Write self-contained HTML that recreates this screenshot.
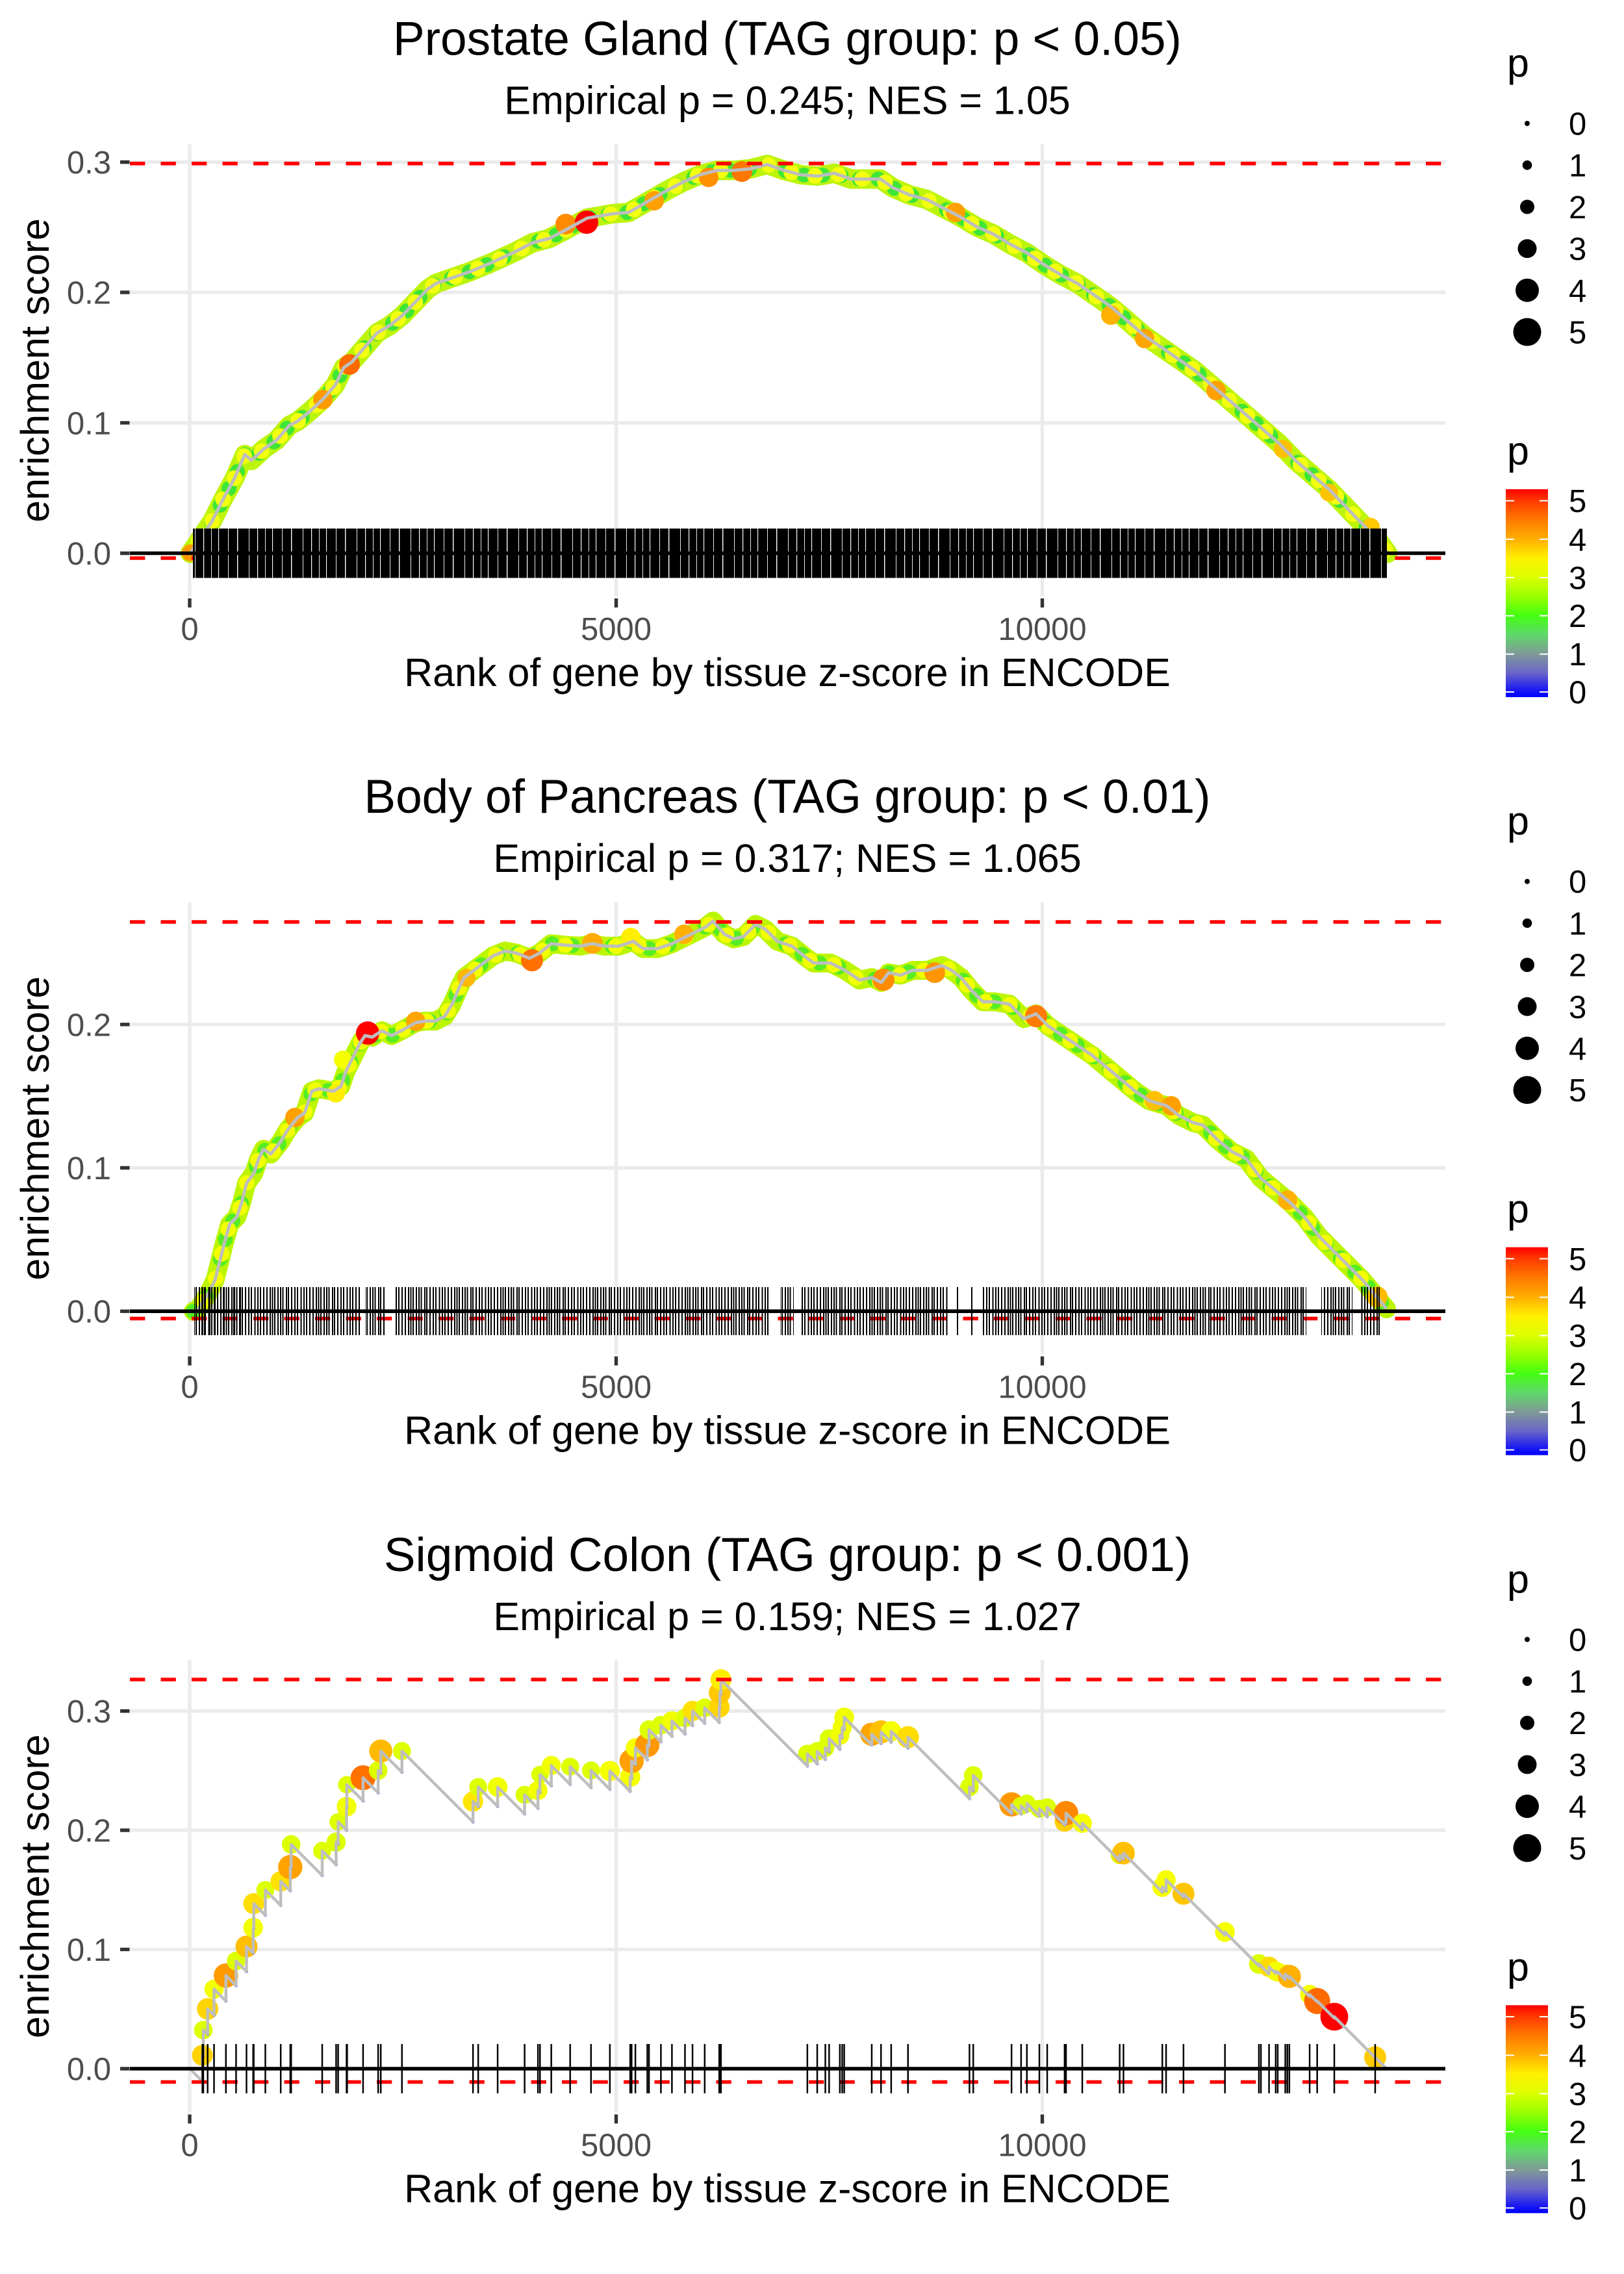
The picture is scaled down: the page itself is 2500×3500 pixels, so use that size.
<!DOCTYPE html>
<html><head><meta charset="utf-8"><style>html,body{margin:0;padding:0;background:#fff;width:2500px;height:3500px;overflow:hidden}svg{display:block}</style></head>
<body>
<svg xmlns="http://www.w3.org/2000/svg" width="2500" height="3500" viewBox="0 0 2500 3500" font-family="'Liberation Sans', Arial, sans-serif">
<defs>
<linearGradient id="cb" x1="0" y1="0" x2="0" y2="1">
<stop offset="0" stop-color="#FF0000"/><stop offset="0.055" stop-color="#FF3A00"/><stop offset="0.147" stop-color="#FF7A00"/><stop offset="0.239" stop-color="#FFAE00"/><stop offset="0.331" stop-color="#FFF000"/><stop offset="0.423" stop-color="#DDFF00"/><stop offset="0.515" stop-color="#99FF00"/><stop offset="0.607" stop-color="#44FF11"/><stop offset="0.699" stop-color="#5FD86A"/><stop offset="0.791" stop-color="#7F9A96"/><stop offset="0.883" stop-color="#6A66C8"/><stop offset="0.975" stop-color="#1010F8"/><stop offset="1" stop-color="#0000FF"/>
</linearGradient>
<pattern id="w1" patternUnits="userSpaceOnUse" x="0" y="0" width="83" height="4"><rect x="4" width="1.1" height="4" fill="#fff"/><rect x="19" width="0.9" height="4" fill="#fff"/><rect x="33" width="1.4" height="4" fill="#fff"/><rect x="51" width="0.9" height="4" fill="#fff"/><rect x="64" width="1.2" height="4" fill="#fff"/><rect x="76" width="0.9" height="4" fill="#fff"/></pattern>
<pattern id="b2" patternUnits="userSpaceOnUse" x="0" y="0" width="71" height="4"><rect x="1" width="2" height="4"/><rect x="5" width="2" height="4"/><rect x="8.5" width="2" height="4"/><rect x="14" width="2" height="4"/><rect x="17" width="2" height="4"/><rect x="22" width="2" height="4"/><rect x="27" width="2" height="4"/><rect x="31" width="2" height="4"/><rect x="36.5" width="2" height="4"/><rect x="41" width="2" height="4"/><rect x="45" width="2" height="4"/><rect x="50" width="2" height="4"/><rect x="55" width="2" height="4"/><rect x="60" width="2" height="4"/><rect x="63.5" width="2" height="4"/><rect x="67" width="2" height="4"/></pattern>
<pattern id="b2b" patternUnits="userSpaceOnUse" x="0" y="0" width="29" height="4"><rect x="3" width="2" height="4"/><rect x="11" width="2" height="4"/><rect x="20" width="2" height="4"/><rect x="24" width="2" height="4"/></pattern>
</defs>
<rect width="2500" height="3500" fill="#fff"/>

<!-- ================= PANEL 1 ================= -->
<g>
<path d="M292,222V918M948.5,222V918M1604.5,222V918M200,249.5H2225M200,450H2225M200,650.8H2225M200,851.5H2225" stroke="#EBEBEB" stroke-width="5.4" fill="none"/>
<path d="M292,921V935M948.5,921V935M1604.5,921V935M185,249.5H199.5M185,450H199.5M185,650.8H199.5M185,851.5H199.5" stroke="#333" stroke-width="5.4"/>
<g font-size="49" fill="#4D4D4D" text-anchor="middle"><text x="292" y="985">0</text><text x="948.5" y="985">5000</text><text x="1604.5" y="985">10000</text></g>
<g font-size="49" fill="#4D4D4D" text-anchor="end"><text x="171" y="267">0.3</text><text x="171" y="467.5">0.2</text><text x="171" y="668.3">0.1</text><text x="171" y="869">0.0</text></g>
<text x="1212" y="84.5" font-size="73" text-anchor="middle">Prostate Gland (TAG group: p &lt; 0.05)</text>
<text x="1212" y="175.5" font-size="61" text-anchor="middle">Empirical p = 0.245; NES = 1.05</text>
<text x="1212" y="1056" font-size="61" text-anchor="middle">Rank of gene by tissue z-score in ENCODE</text>
<text transform="translate(75,570) rotate(-90)" font-size="61" text-anchor="middle">enrichment score</text>
<text x="2320" y="118" font-size="61">p</text>
<g fill="#000"><circle cx="2351" cy="190" r="4"/><circle cx="2351" cy="254.2" r="7.3"/><circle cx="2351" cy="318.4" r="11"/><circle cx="2351" cy="382.6" r="14.5"/><circle cx="2351" cy="446.8" r="18"/><circle cx="2351" cy="511" r="21.5"/></g>
<g font-size="49"><text x="2415" y="207.5">0</text><text x="2415" y="271.7">1</text><text x="2415" y="335.9">2</text><text x="2415" y="400.1">3</text><text x="2415" y="464.3">4</text><text x="2415" y="528.5">5</text></g>
<text x="2320" y="715" font-size="61">p</text>
<rect x="2318" y="753" width="65" height="320" fill="url(#cb)"/>
<path d="M2318,770.7h13M2370,770.7h13M2318,830h13M2370,830h13M2318,889h13M2370,889h13M2318,947.7h13M2370,947.7h13M2318,1006.7h13M2370,1006.7h13M2318,1065h13M2370,1065h13" stroke="#fff" stroke-width="2"/>
<g font-size="49"><text x="2415" y="788.2">5</text><text x="2415" y="847.5">4</text><text x="2415" y="906.5">3</text><text x="2415" y="965.2">2</text><text x="2415" y="1024.2">1</text><text x="2415" y="1082.5">0</text></g>

<g fill="none" stroke-linejoin="round" stroke-linecap="round">
<path stroke="#BDF40C" stroke-width="30" d="M292.9,851.5L326.5,802.3 342,771.1 361.4,735.4 376.8,699.6 387.2,708.6 406.5,690.7 425.9,677.3 445.3,655 458.2,648.3 477.5,632.7 496.9,614.8 516.2,592.5 529.2,565.7 542.1,556.8 561.4,534.5 580.8,512.2 600.1,501 619.5,485.4 638.9,465.3 658.2,445.2 671.1,436.3 697,427.3 722.8,418.4 755,405 774.4,396.1 793.8,387.2 819.6,373.8 845.4,367.1 871.2,353.7 903.5,335.8 942.2,329.1 968,326.9 987.4,315.7 1006.8,304.6 1026.1,293.4 1051.9,280 1077.7,268.9 1103.6,262.2 1129.4,262.2 1155.2,259.9 1181,253.2 1206.8,262.2 1232.6,268.9 1258.5,271.1 1284.3,266.6 1310.1,275.6 1335.9,275.6 1355.3,275.6 1374.6,289 1400.4,300.1 1426.3,306.8 1452.1,320.2 1477.9,333.6 1503.7,349.2 1529.5,360.4 1555.3,376 1581.2,389.4 1607,407.3 1632.8,422.9 1658.6,436.3 1684.4,454.1 1710.2,472 1736.1,494.3 1761.9,516.6 1787.7,534.5 1813.5,552.3 1839.3,570.2 1865.1,592.5 1891,614.8 1916.8,637.1 1942.6,659.5 1968.4,681.8 1994.2,708.6 2020,730.9 2045.9,753.2 2071.7,780 2097.5,806.8 2123.3,833.6 2136.2,851.5"/>
<path stroke="#3EE635" stroke-width="23" stroke-dasharray="0.1 29" d="M292.9,851.5L326.5,802.3 342,771.1 361.4,735.4 376.8,699.6 387.2,708.6 406.5,690.7 425.9,677.3 445.3,655 458.2,648.3 477.5,632.7 496.9,614.8 516.2,592.5 529.2,565.7 542.1,556.8 561.4,534.5 580.8,512.2 600.1,501 619.5,485.4 638.9,465.3 658.2,445.2 671.1,436.3 697,427.3 722.8,418.4 755,405 774.4,396.1 793.8,387.2 819.6,373.8 845.4,367.1 871.2,353.7 903.5,335.8 942.2,329.1 968,326.9 987.4,315.7 1006.8,304.6 1026.1,293.4 1051.9,280 1077.7,268.9 1103.6,262.2 1129.4,262.2 1155.2,259.9 1181,253.2 1206.8,262.2 1232.6,268.9 1258.5,271.1 1284.3,266.6 1310.1,275.6 1335.9,275.6 1355.3,275.6 1374.6,289 1400.4,300.1 1426.3,306.8 1452.1,320.2 1477.9,333.6 1503.7,349.2 1529.5,360.4 1555.3,376 1581.2,389.4 1607,407.3 1632.8,422.9 1658.6,436.3 1684.4,454.1 1710.2,472 1736.1,494.3 1761.9,516.6 1787.7,534.5 1813.5,552.3 1839.3,570.2 1865.1,592.5 1891,614.8 1916.8,637.1 1942.6,659.5 1968.4,681.8 1994.2,708.6 2020,730.9 2045.9,753.2 2071.7,780 2097.5,806.8 2123.3,833.6 2136.2,851.5"/>
<path stroke="#F4FF10" stroke-width="24" stroke-dasharray="0.1 37" stroke-dashoffset="14" d="M292.9,851.5L326.5,802.3 342,771.1 361.4,735.4 376.8,699.6 387.2,708.6 406.5,690.7 425.9,677.3 445.3,655 458.2,648.3 477.5,632.7 496.9,614.8 516.2,592.5 529.2,565.7 542.1,556.8 561.4,534.5 580.8,512.2 600.1,501 619.5,485.4 638.9,465.3 658.2,445.2 671.1,436.3 697,427.3 722.8,418.4 755,405 774.4,396.1 793.8,387.2 819.6,373.8 845.4,367.1 871.2,353.7 903.5,335.8 942.2,329.1 968,326.9 987.4,315.7 1006.8,304.6 1026.1,293.4 1051.9,280 1077.7,268.9 1103.6,262.2 1129.4,262.2 1155.2,259.9 1181,253.2 1206.8,262.2 1232.6,268.9 1258.5,271.1 1284.3,266.6 1310.1,275.6 1335.9,275.6 1355.3,275.6 1374.6,289 1400.4,300.1 1426.3,306.8 1452.1,320.2 1477.9,333.6 1503.7,349.2 1529.5,360.4 1555.3,376 1581.2,389.4 1607,407.3 1632.8,422.9 1658.6,436.3 1684.4,454.1 1710.2,472 1736.1,494.3 1761.9,516.6 1787.7,534.5 1813.5,552.3 1839.3,570.2 1865.1,592.5 1891,614.8 1916.8,637.1 1942.6,659.5 1968.4,681.8 1994.2,708.6 2020,730.9 2045.9,753.2 2071.7,780 2097.5,806.8 2123.3,833.6 2136.2,851.5"/>
</g>
<g>
<circle cx="293" cy="851" r="13" fill="#FF9900"/>
<circle cx="497" cy="615" r="15" fill="#FF9A00"/>
<circle cx="538" cy="561" r="16" fill="#FF6A00"/>
<circle cx="871" cy="345" r="16" fill="#FF8A00"/>
<circle cx="903" cy="342" r="18" fill="#FF0000"/>
<circle cx="1007" cy="309" r="15" fill="#FF9F00"/>
<circle cx="1091" cy="273" r="15" fill="#FF9000"/>
<circle cx="1142" cy="264" r="16" fill="#FF7700"/>
<circle cx="1471" cy="327" r="15" fill="#FFA000"/>
<circle cx="1710" cy="485" r="15" fill="#FFB000"/>
<circle cx="1762" cy="521" r="15" fill="#FFA500"/>
<circle cx="1872" cy="601" r="15" fill="#FFA000"/>
<circle cx="1975" cy="691" r="14" fill="#FFC000"/>
<circle cx="2046" cy="758" r="14" fill="#FFC400"/>
<circle cx="2110" cy="811" r="14" fill="#FFC800"/>
</g>
<path fill="none" stroke="#BEBEBE" stroke-width="5" stroke-linejoin="round" d="M292.9,851.5L326.5,802.3 342,771.1 361.4,735.4 376.8,699.6 387.2,708.6 406.5,690.7 425.9,677.3 445.3,655 458.2,648.3 477.5,632.7 496.9,614.8 516.2,592.5 529.2,565.7 542.1,556.8 561.4,534.5 580.8,512.2 600.1,501 619.5,485.4 638.9,465.3 658.2,445.2 671.1,436.3 697,427.3 722.8,418.4 755,405 774.4,396.1 793.8,387.2 819.6,373.8 845.4,367.1 871.2,353.7 903.5,335.8 942.2,329.1 968,326.9 987.4,315.7 1006.8,304.6 1026.1,293.4 1051.9,280 1077.7,268.9 1103.6,262.2 1129.4,262.2 1155.2,259.9 1181,253.2 1206.8,262.2 1232.6,268.9 1258.5,271.1 1284.3,266.6 1310.1,275.6 1335.9,275.6 1355.3,275.6 1374.6,289 1400.4,300.1 1426.3,306.8 1452.1,320.2 1477.9,333.6 1503.7,349.2 1529.5,360.4 1555.3,376 1581.2,389.4 1607,407.3 1632.8,422.9 1658.6,436.3 1684.4,454.1 1710.2,472 1736.1,494.3 1761.9,516.6 1787.7,534.5 1813.5,552.3 1839.3,570.2 1865.1,592.5 1891,614.8 1916.8,637.1 1942.6,659.5 1968.4,681.8 1994.2,708.6 2020,730.9 2045.9,753.2 2071.7,780 2097.5,806.8 2123.3,833.6 2136.2,851.5"/>
<path d="M200,251.7H2225M200,859H2225" stroke="#FF0000" stroke-width="5.6" stroke-dasharray="23.3 24.2" fill="none"/>
<rect x="297" y="813.5" width="1838" height="76" fill="#000"/>
<rect x="297" y="813.5" width="1838" height="76" fill="url(#w1)"/>
<path d="M200,851.5H2225" stroke="#000" stroke-width="5.6"/>
</g>

<!-- ================= PANEL 2 ================= -->
<g transform="translate(0,1166.67)">
<path d="M292,222V918M948.5,222V918M1604.5,222V918" stroke="#EBEBEB" stroke-width="5.4" fill="none"/>
<path d="M292,921V935M948.5,921V935M1604.5,921V935" stroke="#333" stroke-width="5.4"/>
<g font-size="49" fill="#4D4D4D" text-anchor="middle"><text x="292" y="985">0</text><text x="948.5" y="985">5000</text><text x="1604.5" y="985">10000</text></g>
<text x="1212" y="84.5" font-size="73" text-anchor="middle">Body of Pancreas (TAG group: p &lt; 0.01)</text>
<text x="1212" y="175.5" font-size="61" text-anchor="middle">Empirical p = 0.317; NES = 1.065</text>
<text x="1212" y="1056" font-size="61" text-anchor="middle">Rank of gene by tissue z-score in ENCODE</text>
<text transform="translate(75,570) rotate(-90)" font-size="61" text-anchor="middle">enrichment score</text>
<text x="2320" y="118" font-size="61">p</text>
<g fill="#000"><circle cx="2351" cy="190" r="4"/><circle cx="2351" cy="254.2" r="7.3"/><circle cx="2351" cy="318.4" r="11"/><circle cx="2351" cy="382.6" r="14.5"/><circle cx="2351" cy="446.8" r="18"/><circle cx="2351" cy="511" r="21.5"/></g>
<g font-size="49"><text x="2415" y="207.5">0</text><text x="2415" y="271.7">1</text><text x="2415" y="335.9">2</text><text x="2415" y="400.1">3</text><text x="2415" y="464.3">4</text><text x="2415" y="528.5">5</text></g>
<text x="2320" y="715" font-size="61">p</text>
<rect x="2318" y="753" width="65" height="320" fill="url(#cb)"/>
<path d="M2318,770.7h13M2370,770.7h13M2318,830h13M2370,830h13M2318,889h13M2370,889h13M2318,947.7h13M2370,947.7h13M2318,1006.7h13M2370,1006.7h13M2318,1065h13M2370,1065h13" stroke="#fff" stroke-width="2"/>
<g font-size="49"><text x="2415" y="788.2">5</text><text x="2415" y="847.5">4</text><text x="2415" y="906.5">3</text><text x="2415" y="965.2">2</text><text x="2415" y="1024.2">1</text><text x="2415" y="1082.5">0</text></g>
</g>
<g>
<path d="M200,1576.8H2225M200,1797.5H2225M200,2018.2H2225" stroke="#EBEBEB" stroke-width="5.4" fill="none"/>
<path d="M185,1576.8H199.5M185,1797.5H199.5M185,2018.2H199.5" stroke="#333" stroke-width="5.4"/>
<g font-size="49" fill="#4D4D4D" text-anchor="end"><text x="171" y="1594.3">0.2</text><text x="171" y="1815">0.1</text><text x="171" y="2035.7">0.0</text></g>
<g fill="none" stroke-linejoin="round" stroke-linecap="round">
<path stroke="#BCF500" stroke-width="29" d="M297.7,2018.2L305.2,2014.5 320,1992.1 331.2,1969.8 338.6,1940 346.1,1910.3 353.5,1884.2 364.7,1873 372.1,1850.7 379.6,1821 390.7,1806.1 398.2,1783.7 405.6,1768.9 416.8,1776.3 431.7,1757.7 442.8,1739.1 457.7,1720.5 468.9,1713 480,1679.5 491.2,1675.8 513.5,1679.5 524.7,1672.1 532.2,1649.8 547,1620 554.5,1605.1 561.9,1594 573.1,1596.2 588,1586.5 602.9,1594 617.7,1586.5 640.1,1573.9 655,1571.6 669.8,1571.6 684.7,1564.2 695.9,1545.6 707.1,1519.5 714.5,1504.6 729.4,1493.5 744.3,1482.3 759.2,1471.2 777.8,1463.7 796.4,1467.4 815,1474.9 829.9,1467.4 848.5,1452.5 870.8,1454.8 893.1,1456.3 911.7,1452.5 930.4,1456.3 952.7,1456.3 975,1448.8 989.9,1460 1012.2,1460 1034.5,1452.5 1056.9,1441.4 1071.7,1434 1086.6,1426.5 1097.8,1417.6 1114.9,1437.7 1129.8,1445.1 1144.7,1441.4 1163.3,1422.8 1178.1,1430.2 1196.8,1448.8 1219.1,1456.3 1237.7,1471.2 1252.6,1482.3 1278.6,1482.3 1301,1493.5 1323.3,1508.4 1341.9,1504.6 1356.8,1512.1 1367.9,1497.2 1386.5,1500.9 1405.2,1493.5 1427.5,1493.5 1449.8,1486 1464.7,1493.5 1479.6,1504.6 1494.5,1523.2 1513.1,1541.9 1531.7,1541.9 1554,1545.6 1576.3,1567.9 1594.9,1560.5 1613.6,1579.1 1635.9,1594 1658.2,1608.8 1680.5,1623.7 1702.9,1642.3 1725.2,1660.9 1747.5,1679.5 1769.8,1694.4 1795.9,1701.9 1814.5,1716.8 1836.8,1727.9 1851.7,1731.6 1874,1754 1896.4,1772.6 1918.7,1783.7 1941,1813.5 1963.4,1832.1 1985.7,1850.7 2008,1873 2030.4,1902.8 2052.7,1925.2 2075,1947.5 2097.3,1969.8 2115.9,1992.1 2134.5,2014.5"/>
<path stroke="#55EE22" stroke-width="23" stroke-dasharray="0.1 31" d="M297.7,2018.2L305.2,2014.5 320,1992.1 331.2,1969.8 338.6,1940 346.1,1910.3 353.5,1884.2 364.7,1873 372.1,1850.7 379.6,1821 390.7,1806.1 398.2,1783.7 405.6,1768.9 416.8,1776.3 431.7,1757.7 442.8,1739.1 457.7,1720.5 468.9,1713 480,1679.5 491.2,1675.8 513.5,1679.5 524.7,1672.1 532.2,1649.8 547,1620 554.5,1605.1 561.9,1594 573.1,1596.2 588,1586.5 602.9,1594 617.7,1586.5 640.1,1573.9 655,1571.6 669.8,1571.6 684.7,1564.2 695.9,1545.6 707.1,1519.5 714.5,1504.6 729.4,1493.5 744.3,1482.3 759.2,1471.2 777.8,1463.7 796.4,1467.4 815,1474.9 829.9,1467.4 848.5,1452.5 870.8,1454.8 893.1,1456.3 911.7,1452.5 930.4,1456.3 952.7,1456.3 975,1448.8 989.9,1460 1012.2,1460 1034.5,1452.5 1056.9,1441.4 1071.7,1434 1086.6,1426.5 1097.8,1417.6 1114.9,1437.7 1129.8,1445.1 1144.7,1441.4 1163.3,1422.8 1178.1,1430.2 1196.8,1448.8 1219.1,1456.3 1237.7,1471.2 1252.6,1482.3 1278.6,1482.3 1301,1493.5 1323.3,1508.4 1341.9,1504.6 1356.8,1512.1 1367.9,1497.2 1386.5,1500.9 1405.2,1493.5 1427.5,1493.5 1449.8,1486 1464.7,1493.5 1479.6,1504.6 1494.5,1523.2 1513.1,1541.9 1531.7,1541.9 1554,1545.6 1576.3,1567.9 1594.9,1560.5 1613.6,1579.1 1635.9,1594 1658.2,1608.8 1680.5,1623.7 1702.9,1642.3 1725.2,1660.9 1747.5,1679.5 1769.8,1694.4 1795.9,1701.9 1814.5,1716.8 1836.8,1727.9 1851.7,1731.6 1874,1754 1896.4,1772.6 1918.7,1783.7 1941,1813.5 1963.4,1832.1 1985.7,1850.7 2008,1873 2030.4,1902.8 2052.7,1925.2 2075,1947.5 2097.3,1969.8 2115.9,1992.1 2134.5,2014.5"/>
<path stroke="#F2FF00" stroke-width="24" stroke-dasharray="0.1 39" stroke-dashoffset="16" d="M297.7,2018.2L305.2,2014.5 320,1992.1 331.2,1969.8 338.6,1940 346.1,1910.3 353.5,1884.2 364.7,1873 372.1,1850.7 379.6,1821 390.7,1806.1 398.2,1783.7 405.6,1768.9 416.8,1776.3 431.7,1757.7 442.8,1739.1 457.7,1720.5 468.9,1713 480,1679.5 491.2,1675.8 513.5,1679.5 524.7,1672.1 532.2,1649.8 547,1620 554.5,1605.1 561.9,1594 573.1,1596.2 588,1586.5 602.9,1594 617.7,1586.5 640.1,1573.9 655,1571.6 669.8,1571.6 684.7,1564.2 695.9,1545.6 707.1,1519.5 714.5,1504.6 729.4,1493.5 744.3,1482.3 759.2,1471.2 777.8,1463.7 796.4,1467.4 815,1474.9 829.9,1467.4 848.5,1452.5 870.8,1454.8 893.1,1456.3 911.7,1452.5 930.4,1456.3 952.7,1456.3 975,1448.8 989.9,1460 1012.2,1460 1034.5,1452.5 1056.9,1441.4 1071.7,1434 1086.6,1426.5 1097.8,1417.6 1114.9,1437.7 1129.8,1445.1 1144.7,1441.4 1163.3,1422.8 1178.1,1430.2 1196.8,1448.8 1219.1,1456.3 1237.7,1471.2 1252.6,1482.3 1278.6,1482.3 1301,1493.5 1323.3,1508.4 1341.9,1504.6 1356.8,1512.1 1367.9,1497.2 1386.5,1500.9 1405.2,1493.5 1427.5,1493.5 1449.8,1486 1464.7,1493.5 1479.6,1504.6 1494.5,1523.2 1513.1,1541.9 1531.7,1541.9 1554,1545.6 1576.3,1567.9 1594.9,1560.5 1613.6,1579.1 1635.9,1594 1658.2,1608.8 1680.5,1623.7 1702.9,1642.3 1725.2,1660.9 1747.5,1679.5 1769.8,1694.4 1795.9,1701.9 1814.5,1716.8 1836.8,1727.9 1851.7,1731.6 1874,1754 1896.4,1772.6 1918.7,1783.7 1941,1813.5 1963.4,1832.1 1985.7,1850.7 2008,1873 2030.4,1902.8 2052.7,1925.2 2075,1947.5 2097.3,1969.8 2115.9,1992.1 2134.5,2014.5"/>
</g>
<g>
<circle cx="454" cy="1720" r="15" fill="#FFA000"/>
<circle cx="528" cy="1631" r="14" fill="#F5FF00"/>
<circle cx="517" cy="1683" r="14" fill="#FFEE00"/>
<circle cx="566" cy="1590" r="18" fill="#FF0000"/>
<circle cx="640" cy="1572" r="15" fill="#FFA500"/>
<circle cx="718" cy="1505" r="14" fill="#FFB800"/>
<circle cx="819" cy="1478" r="17" fill="#FF7000"/>
<circle cx="912" cy="1452" r="16" fill="#FFAA00"/>
<circle cx="971" cy="1443" r="15" fill="#FFEE00"/>
<circle cx="1053" cy="1438" r="15" fill="#FFB000"/>
<circle cx="1360" cy="1508" r="17" fill="#FF8C00"/>
<circle cx="1439" cy="1497" r="16" fill="#FF9500"/>
<circle cx="1595" cy="1564" r="17" fill="#FF7A00"/>
<circle cx="1777" cy="1694" r="15" fill="#FFC000"/>
<circle cx="1803" cy="1702" r="15" fill="#FFA000"/>
<circle cx="1982" cy="1847" r="15" fill="#FFB000"/>
<circle cx="2120" cy="1996" r="16" fill="#FFBB00"/>
</g>
<path fill="none" stroke="#BEBEBE" stroke-width="5" stroke-linejoin="round" d="M297.7,2018.2L305.2,2014.5 320,1992.1 331.2,1969.8 338.6,1940 346.1,1910.3 353.5,1884.2 364.7,1873 372.1,1850.7 379.6,1821 390.7,1806.1 398.2,1783.7 405.6,1768.9 416.8,1776.3 431.7,1757.7 442.8,1739.1 457.7,1720.5 468.9,1713 480,1679.5 491.2,1675.8 513.5,1679.5 524.7,1672.1 532.2,1649.8 547,1620 554.5,1605.1 561.9,1594 573.1,1596.2 588,1586.5 602.9,1594 617.7,1586.5 640.1,1573.9 655,1571.6 669.8,1571.6 684.7,1564.2 695.9,1545.6 707.1,1519.5 714.5,1504.6 729.4,1493.5 744.3,1482.3 759.2,1471.2 777.8,1463.7 796.4,1467.4 815,1474.9 829.9,1467.4 848.5,1452.5 870.8,1454.8 893.1,1456.3 911.7,1452.5 930.4,1456.3 952.7,1456.3 975,1448.8 989.9,1460 1012.2,1460 1034.5,1452.5 1056.9,1441.4 1071.7,1434 1086.6,1426.5 1097.8,1417.6 1114.9,1437.7 1129.8,1445.1 1144.7,1441.4 1163.3,1422.8 1178.1,1430.2 1196.8,1448.8 1219.1,1456.3 1237.7,1471.2 1252.6,1482.3 1278.6,1482.3 1301,1493.5 1323.3,1508.4 1341.9,1504.6 1356.8,1512.1 1367.9,1497.2 1386.5,1500.9 1405.2,1493.5 1427.5,1493.5 1449.8,1486 1464.7,1493.5 1479.6,1504.6 1494.5,1523.2 1513.1,1541.9 1531.7,1541.9 1554,1545.6 1576.3,1567.9 1594.9,1560.5 1613.6,1579.1 1635.9,1594 1658.2,1608.8 1680.5,1623.7 1702.9,1642.3 1725.2,1660.9 1747.5,1679.5 1769.8,1694.4 1795.9,1701.9 1814.5,1716.8 1836.8,1727.9 1851.7,1731.6 1874,1754 1896.4,1772.6 1918.7,1783.7 1941,1813.5 1963.4,1832.1 1985.7,1850.7 2008,1873 2030.4,1902.8 2052.7,1925.2 2075,1947.5 2097.3,1969.8 2115.9,1992.1 2134.5,2014.5"/>
<path d="M200,1419H2225M200,2029.4H2225" stroke="#FF0000" stroke-width="5.6" stroke-dasharray="23.3 24.2" fill="none"/>
<g>
<rect x="299" y="1981" width="255" height="74" fill="url(#b2)"/>
<rect x="301" y="1981" width="71" height="74" fill="url(#b2b)"/>
<rect x="562" y="1981" width="33" height="74" fill="url(#b2)"/>
<rect x="607" y="1981" width="578" height="74" fill="url(#b2)"/>
<rect x="1201" y="1981" width="21" height="74" fill="url(#b2)"/>
<rect x="1234" y="1981" width="226" height="74" fill="url(#b2)"/>
<rect x="1512" y="1981" width="499" height="74" fill="url(#b2)"/>
<rect x="2034" y="1981" width="48" height="74" fill="url(#b2)"/>
<rect x="2094" y="1981" width="30" height="74" fill="url(#b2)"/>
<path d="M1474,1981V2055M1496,1981V2055M2123,1981V2055" stroke="#000" stroke-width="2"/>
</g>
<path d="M200,2018.2H2225" stroke="#000" stroke-width="5.6"/>
</g>

<!-- ================= PANEL 3 ================= -->
<g transform="translate(0,2333.33)">
<path d="M292,222V918M948.5,222V918M1604.5,222V918" stroke="#EBEBEB" stroke-width="5.4" fill="none"/>
<path d="M292,921V935M948.5,921V935M1604.5,921V935" stroke="#333" stroke-width="5.4"/>
<g font-size="49" fill="#4D4D4D" text-anchor="middle"><text x="292" y="985">0</text><text x="948.5" y="985">5000</text><text x="1604.5" y="985">10000</text></g>
<text x="1212" y="84.5" font-size="73" text-anchor="middle">Sigmoid Colon (TAG group: p &lt; 0.001)</text>
<text x="1212" y="175.5" font-size="61" text-anchor="middle">Empirical p = 0.159; NES = 1.027</text>
<text x="1212" y="1056" font-size="61" text-anchor="middle">Rank of gene by tissue z-score in ENCODE</text>
<text transform="translate(75,570) rotate(-90)" font-size="61" text-anchor="middle">enrichment score</text>
<text x="2320" y="118" font-size="61">p</text>
<g fill="#000"><circle cx="2351" cy="190" r="4"/><circle cx="2351" cy="254.2" r="7.3"/><circle cx="2351" cy="318.4" r="11"/><circle cx="2351" cy="382.6" r="14.5"/><circle cx="2351" cy="446.8" r="18"/><circle cx="2351" cy="511" r="21.5"/></g>
<g font-size="49"><text x="2415" y="207.5">0</text><text x="2415" y="271.7">1</text><text x="2415" y="335.9">2</text><text x="2415" y="400.1">3</text><text x="2415" y="464.3">4</text><text x="2415" y="528.5">5</text></g>
<text x="2320" y="715" font-size="61">p</text>
<rect x="2318" y="753" width="65" height="320" fill="url(#cb)"/>
<path d="M2318,770.7h13M2370,770.7h13M2318,830h13M2370,830h13M2318,889h13M2370,889h13M2318,947.7h13M2370,947.7h13M2318,1006.7h13M2370,1006.7h13M2318,1065h13M2370,1065h13" stroke="#fff" stroke-width="2"/>
<g font-size="49"><text x="2415" y="788.2">5</text><text x="2415" y="847.5">4</text><text x="2415" y="906.5">3</text><text x="2415" y="965.2">2</text><text x="2415" y="1024.2">1</text><text x="2415" y="1082.5">0</text></g>
</g>
<g>
<path d="M200,2633.5H2225M200,2817H2225M200,3000.4H2225M200,3184H2225" stroke="#EBEBEB" stroke-width="5.4" fill="none"/>
<path d="M185,2633.5H199.5M185,2817H199.5M185,3000.4H199.5M185,3184H199.5" stroke="#333" stroke-width="5.4"/>
<g font-size="49" fill="#4D4D4D" text-anchor="end"><text x="171" y="2651">0.3</text><text x="171" y="2834.5">0.2</text><text x="171" y="3017.9">0.1</text><text x="171" y="3201.5">0.0</text></g>
</g>
<g transform="translate(200,2554) scale(0.446429)">
<g>
<circle cx="250" cy="1365" r="36" fill="#FFD200"/>
<circle cx="253" cy="1278" r="32" fill="#DDFF00"/>
<circle cx="268" cy="1205" r="37" fill="#FFD500"/>
<circle cx="290" cy="1137" r="33" fill="#F4FF00"/>
<circle cx="331" cy="1090" r="42" fill="#FF9A00"/>
<circle cx="366" cy="1040" r="32" fill="#DDFF00"/>
<circle cx="402" cy="990" r="38" fill="#FFBE00"/>
<circle cx="425" cy="925" r="34" fill="#F2FF00"/>
<circle cx="427" cy="842" r="36" fill="#FFDD00"/>
<circle cx="467" cy="795" r="31" fill="#DDFF00"/>
<circle cx="520" cy="765" r="35" fill="#FFE000"/>
<circle cx="553" cy="716" r="42" fill="#FFA200"/>
<circle cx="556" cy="638" r="32" fill="#DDFF00"/>
<circle cx="663" cy="660" r="31" fill="#DDFF00"/>
<circle cx="711" cy="630" r="33" fill="#DDFF00"/>
<circle cx="718" cy="560" r="30" fill="#DDFF00"/>
<circle cx="747" cy="508" r="34" fill="#F2FF00"/>
<circle cx="748" cy="432" r="30" fill="#DDFF00"/>
<circle cx="804" cy="408" r="43" fill="#FF7200"/>
<circle cx="856" cy="383" r="32" fill="#DDFF00"/>
<circle cx="865" cy="316" r="40" fill="#FFBA00"/>
<circle cx="938" cy="316" r="31" fill="#DDFF00"/>
<circle cx="1183" cy="490" r="35" fill="#FFE600"/>
<circle cx="1201" cy="440" r="31" fill="#DDFF00"/>
<circle cx="1268" cy="440" r="34" fill="#F2FF00"/>
<circle cx="1361" cy="467" r="31" fill="#DDFF00"/>
<circle cx="1407" cy="452" r="33" fill="#F2FF00"/>
<circle cx="1414" cy="397" r="30" fill="#DDFF00"/>
<circle cx="1453" cy="366" r="33" fill="#F2FF00"/>
<circle cx="1518" cy="370" r="31" fill="#DDFF00"/>
<circle cx="1590" cy="383" r="31" fill="#DDFF00"/>
<circle cx="1655" cy="385" r="35" fill="#F5FF00"/>
<circle cx="1725" cy="405" r="35" fill="#F5FF00"/>
<circle cx="1730" cy="350" r="42" fill="#FFA000"/>
<circle cx="1743" cy="305" r="33" fill="#F5FF00"/>
<circle cx="1784" cy="295" r="42" fill="#FF9800"/>
<circle cx="1790" cy="243" r="33" fill="#DDFF00"/>
<circle cx="1831" cy="227" r="32" fill="#DDFF00"/>
<circle cx="1869" cy="212" r="33" fill="#F2FF00"/>
<circle cx="1914" cy="202" r="32" fill="#DDFF00"/>
<circle cx="1940" cy="178" r="35" fill="#FFE000"/>
<circle cx="1982" cy="167" r="32" fill="#DDFF00"/>
<circle cx="2032" cy="165" r="36" fill="#FFD500"/>
<circle cx="2034" cy="115" r="38" fill="#FFC800"/>
<circle cx="2038" cy="70" r="36" fill="#FFEE00"/>
<circle cx="2336" cy="326" r="32" fill="#DDFF00"/>
<circle cx="2370" cy="317" r="32" fill="#DDFF00"/>
<circle cx="2398" cy="305" r="31" fill="#DDFF00"/>
<circle cx="2411" cy="273" r="32" fill="#DDFF00"/>
<circle cx="2448" cy="262" r="33" fill="#F2FF00"/>
<circle cx="2456" cy="235" r="33" fill="#F2FF00"/>
<circle cx="2463" cy="200" r="34" fill="#F0FF00"/>
<circle cx="2558" cy="258" r="40" fill="#FFA500"/>
<circle cx="2590" cy="250" r="40" fill="#FFC000"/>
<circle cx="2625" cy="248" r="35" fill="#F5FF00"/>
<circle cx="2683" cy="268" r="38" fill="#FFDD00"/>
<circle cx="2895" cy="440" r="32" fill="#DDFF00"/>
<circle cx="2908" cy="400" r="32" fill="#DDFF00"/>
<circle cx="3040" cy="500" r="42" fill="#FF9800"/>
<circle cx="3073" cy="505" r="31" fill="#DDFF00"/>
<circle cx="3093" cy="497" r="31" fill="#DDFF00"/>
<circle cx="3136" cy="515" r="31" fill="#DDFF00"/>
<circle cx="3163" cy="510" r="31" fill="#DDFF00"/>
<circle cx="3223" cy="560" r="34" fill="#FFD000"/>
<circle cx="3228" cy="530" r="42" fill="#FF8800"/>
<circle cx="3284" cy="565" r="33" fill="#F5FF00"/>
<circle cx="3413" cy="675" r="31" fill="#DDFF00"/>
<circle cx="3426" cy="668" r="39" fill="#FFC000"/>
<circle cx="3560" cy="785" r="34" fill="#F5FF00"/>
<circle cx="3573" cy="760" r="33" fill="#F5FF00"/>
<circle cx="3633" cy="808" r="38" fill="#FFC500"/>
<circle cx="3776" cy="940" r="34" fill="#F5FF00"/>
<circle cx="3893" cy="1050" r="34" fill="#DDFF00"/>
<circle cx="3928" cy="1060" r="35" fill="#FFDA00"/>
<circle cx="3951" cy="1075" r="33" fill="#F5FF00"/>
<circle cx="3958" cy="1078" r="33" fill="#F5FF00"/>
<circle cx="3984" cy="1085" r="33" fill="#F5FF00"/>
<circle cx="3998" cy="1093" r="40" fill="#FFB000"/>
<circle cx="4068" cy="1155" r="33" fill="#F5FF00"/>
<circle cx="4094" cy="1178" r="45" fill="#FF6A00"/>
<circle cx="4153" cy="1232" r="48" fill="#FF0000"/>
<circle cx="4294" cy="1372" r="38" fill="#FFCC00"/>
</g>
<path fill="none" stroke="#1A1AFF" stroke-width="11" stroke-linecap="round" d="M207,1412h0M250,1455h0M253,1368h0M268,1293h0M290,1227h0M331,1178h0M366,1125h0M402,1076h0M425,1013h0M427,927h0M467,882h0M520,848h0M553,798h0M556,719h0M663,745h0M711,708h0M718,637h0M747,589h0M748,509h0M804,488h0M856,460h0M865,392h0M938,389h0M1183,561h0M1201,508h0M1268,507h0M1361,533h0M1407,513h0M1414,459h0M1453,436h0M1518,431h0M1590,442h0M1655,448h0M1725,455h0M1730,410h0M1743,363h0M1784,346h0M1790,301h0M1831,284h0M1869,265h0M1914,257h0M1940,228h0M1982,220h0M2032,217h0M2034,167h0M2038,119h0M2336,368h0M2370,360h0M2398,345h0M2411,318h0M2448,310h0M2456,270h0M2463,242h0M2558,295h0M2590,290h0M2625,285h0M2683,306h0M2895,480h0M2908,453h0M3040,532h0M3073,533h0M3093,525h0M3136,540h0M3163,542h0M3223,570h0M3228,565h0M3284,586h0M3413,694h0M3426,688h0M3560,802h0M3573,798h0M3633,820h0"/>
<path fill="none" stroke="#BEBEBE" stroke-width="10" stroke-linejoin="round" d="M207,1412L250,1455 250,1365 253,1368 253,1278 268,1293 268,1205 290,1227 290,1137 331,1178 331,1090 366,1125 366,1040 402,1076 402,990 425,1013 425,925 427,927 427,842 467,882 467,795 520,848 520,765 553,798 553,716 556,719 556,638 663,745 663,660 711,708 711,630 718,637 718,560 747,589 747,508 748,509 748,432 804,488 804,408 856,460 856,383 865,392 865,316 938,389 938,316 1183,561 1183,490 1201,508 1201,440 1268,507 1268,440 1361,533 1361,467 1407,513 1407,452 1414,459 1414,397 1453,436 1453,366 1518,431 1518,370 1590,442 1590,383 1655,448 1655,385 1725,455 1725,405 1730,410 1730,350 1743,363 1743,305 1784,346 1784,295 1790,301 1790,243 1831,284 1831,227 1869,265 1869,212 1914,257 1914,202 1940,228 1940,178 1982,220 1982,167 2032,217 2032,165 2034,167 2034,115 2038,119 2038,70 2336,368 2336,326 2370,360 2370,317 2398,345 2398,305 2411,318 2411,273 2448,310 2448,262 2456,270 2456,235 2463,242 2463,200 2558,295 2558,258 2590,290 2590,250 2625,285 2625,248 2683,306 2683,268 2895,480 2895,440 2908,453 2908,400 3040,532 3040,500 3073,533 3073,505 3093,525 3093,497 3136,540 3136,515 3163,542 3163,510 3223,570 3223,560 3228,565 3228,530 3284,586 3284,565 3413,694 3413,675 3426,688 3426,668 3560,802 3560,785 3573,798 3573,760 3633,820 3633,808 3776,951 3776,940 3893,1057 3893,1050 3928,1085 3928,1060 3951,1083 3951,1075 3958,1082 3958,1078 3984,1104 3984,1085 3998,1099 3998,1093 4068,1163 4068,1155 4094,1181 4094,1178 4153,1237 4153,1232 4294,1373 4294,1372 4331,1409"/>
</g>
<path d="M200,2585H2225M200,3204.5H2225" stroke="#FF0000" stroke-width="5.6" stroke-dasharray="23.3 24.2" fill="none"/>
<g transform="translate(200,2554) scale(0.446429)">
<path fill="none" stroke="#000" stroke-width="5.5" d="M250,1326V1496M253,1326V1496M268,1326V1496M290,1326V1496M331,1326V1496M366,1326V1496M402,1326V1496M425,1326V1496M427,1326V1496M467,1326V1496M520,1326V1496M553,1326V1496M556,1326V1496M663,1326V1496M711,1326V1496M718,1326V1496M747,1326V1496M749,1326V1496M804,1326V1496M856,1326V1496M865,1326V1496M938,1326V1496M1183,1326V1496M1201,1326V1496M1268,1326V1496M1361,1326V1496M1407,1326V1496M1414,1326V1496M1453,1326V1496M1518,1326V1496M1590,1326V1496M1655,1326V1496M1725,1326V1496M1730,1326V1496M1743,1326V1496M1784,1326V1496M1790,1326V1496M1831,1326V1496M1869,1326V1496M1914,1326V1496M1940,1326V1496M1982,1326V1496M2032,1326V1496M2035,1326V1496M2038,1326V1496M2336,1326V1496M2370,1326V1496M2398,1326V1496M2411,1326V1496M2448,1326V1496M2456,1326V1496M2463,1326V1496M2558,1326V1496M2590,1326V1496M2625,1326V1496M2683,1326V1496M2895,1326V1496M2908,1326V1496M3040,1326V1496M3073,1326V1496M3093,1326V1496M3136,1326V1496M3163,1326V1496M3223,1326V1496M3228,1326V1496M3284,1326V1496M3413,1326V1496M3426,1326V1496M3560,1326V1496M3573,1326V1496M3633,1326V1496M3776,1326V1496M3893,1326V1496M3900,1326V1496M3928,1326V1496M3951,1326V1496M3958,1326V1496M3984,1326V1496M3991,1326V1496M3998,1326V1496M4068,1326V1496M4094,1326V1496M4153,1326V1496M4294,1326V1496"/>
</g>
<path d="M200,3184H2225" stroke="#000" stroke-width="5.6"/>
</svg>
</body></html>
